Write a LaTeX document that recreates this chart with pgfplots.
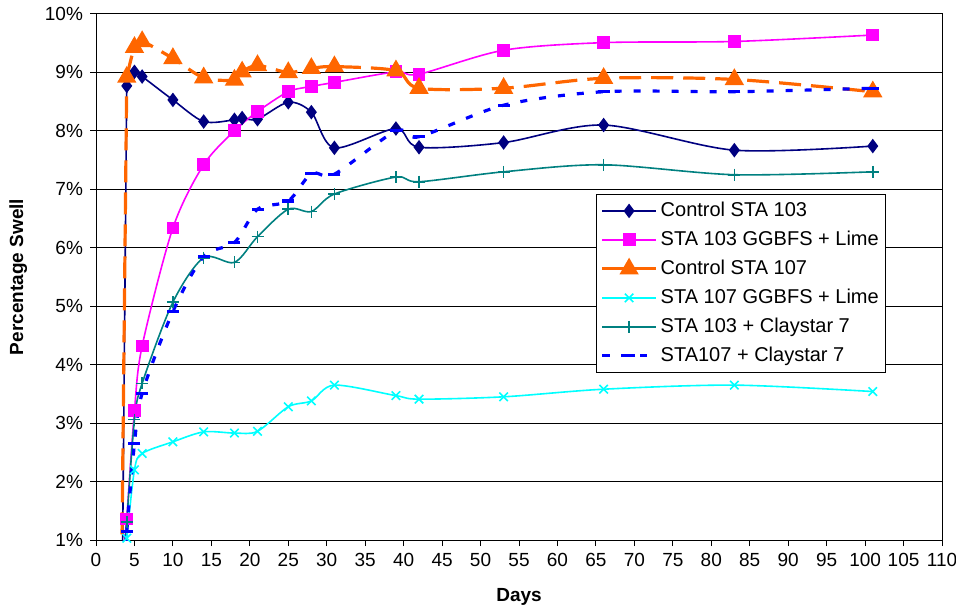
\documentclass[border=0pt]{standalone}
\usepackage{pgfplots}
\pgfplotsset{compat=1.18}
\usepackage{fontspec}
\setmainfont{Liberation Sans}

\definecolor{cnavy}{RGB}{0,0,128}
\definecolor{cpink}{RGB}{255,0,255}
\definecolor{corange}{RGB}{255,102,0}
\definecolor{ccyan}{RGB}{0,255,255}
\definecolor{cteal}{RGB}{0,128,128}
\definecolor{cblue}{RGB}{0,0,255}

\begin{document}
\begin{tikzpicture}
\useasboundingbox (-48pt,-35pt) rectangle (430pt,270pt);
\begin{axis}[
    scale only axis,
    width=423pt, height=263pt,
    xmin=0, xmax=110, ymin=1, ymax=10,
    xtick distance=5,
    ytick={1,...,10},
    yticklabel={\pgfmathprintnumber{\tick}\%},
    /pgf/number format/assume math mode=true,
    ymajorgrids,
    grid style={black, line width=0.5pt},
    axis line style={black, line width=0.5pt},
    tick align=outside, xtick pos=bottom, ytick pos=left,
    major tick length=3pt,
    tick style={black, line width=0.5pt},
    tick label style={font=\fontsize{9.5}{11}\selectfont},
    xlabel={Days}, ylabel={Percentage Swell},
    label style={font=\fontsize{9.5}{11}\selectfont\bfseries},
    xlabel style={at={(axis description cs:0.5,-0.108)}, anchor=center},
    ylabel style={at={(axis description cs:-0.092,0.5)}, anchor=center},
    legend style={
      at={(0.591,0.658)}, anchor=north west,
      draw=black, line width=0.5pt,
      font=\fontsize{10}{12}\selectfont,
      inner xsep=2pt, inner ysep=1pt,
      nodes={text height=8pt, text depth=2.5pt, inner ysep=2pt, inner xsep=1.5pt},
      cells={anchor=west}
    },
    legend image code/.code={
      \draw[mark repeat=2, mark phase=2, #1]
        plot coordinates {(0pt,0pt) (13.5pt,0pt) (27pt,0pt)};
    },
    start/.style={forget plot, no marks},
  ]
  % starting segments from zero (below the visible range)
  \addplot[start, color=cnavy, line width=0.8pt] coordinates {(3.4,0) (4,8.77)};
  \addplot[start, color=cpink, line width=0.8pt] coordinates {(3,0) (4,1.36)};
  \addplot[start, color=corange, line width=1.6pt, dash pattern=on 11pt off 5pt] coordinates {(3.3,0) (4,8.92)};
  \addplot[start, color=ccyan, line width=0.8pt] coordinates {(3.5,0) (4,1.03)};
  \addplot[start, color=cteal, line width=0.8pt] coordinates {(3.2,0) (4,1.31)};
  \addplot[start, color=cblue, line width=1.6pt, dash pattern=on 3.5pt off 6pt] coordinates {(3.4,0) (4,1.15)};
  % Control STA 103
  \addplot[color=cnavy, line width=0.8pt, smooth, mark=diamond*, mark size=3pt]
    coordinates {(4,8.77) (5,9.01) (6,8.93) (10,8.53) (14,8.16) (18,8.19) (19,8.22)
      (21,8.20) (25,8.49) (28,8.32) (31,7.71) (39,8.04) (42,7.72) (53,7.80) (66,8.10)
      (83,7.67) (101,7.74)};
  % STA 103 GGBFS + Lime
  \addplot[color=cpink, line width=0.8pt, smooth, mark=square*, mark size=2.8pt]
    coordinates {(4,1.36) (5,3.21) (6,4.32) (10,6.34) (14,7.42) (18,8.00) (21,8.33)
      (25,8.67) (28,8.76) (31,8.83) (39,9.01) (42,8.97) (53,9.38) (66,9.51) (83,9.53)
      (101,9.64)};
  % Control STA 107
  \addplot[color=corange, line width=1.6pt, dash pattern=on 11pt off 5pt, smooth,
      mark=triangle*, mark size=4pt, mark options={solid}]
    coordinates {(4,8.92) (5,9.43) (6,9.53) (10,9.24) (14,8.91) (18,8.87) (19,9.01)
      (21,9.12) (25,9.00) (28,9.07) (31,9.10) (39,9.03) (42,8.73) (53,8.73) (66,8.90)
      (83,8.88) (101,8.67)};
  % STA 107 GGBFS + Lime
  \addplot[color=ccyan, line width=0.8pt, smooth, mark=x, mark size=3pt]
    coordinates {(4,1.03) (5,2.20) (6,2.48) (10,2.68) (14,2.85) (18,2.83) (21,2.86)
      (25,3.28) (28,3.38) (31,3.65) (39,3.47) (42,3.41) (53,3.45) (66,3.58) (83,3.65)
      (101,3.54)};
  % STA 103 + Claystar 7
  \addplot[color=cteal, line width=0.8pt, smooth, mark=+, mark size=3pt]
    coordinates {(4,1.31) (5,3.06) (6,3.68) (10,5.07) (14,5.83) (18,5.75) (21,6.19)
      (25,6.66) (28,6.62) (31,6.92) (39,7.21) (42,7.13) (53,7.30) (66,7.42) (83,7.25)
      (101,7.30)};
  % STA107 + Claystar 7
  \addplot[color=cblue, line width=1.6pt, dash pattern=on 3.5pt off 6pt, smooth,
      mark=-, mark size=3pt, mark options={solid}]
    coordinates {(4,1.15) (5,2.65) (6,3.51) (10,4.91) (14,5.85) (18,6.09) (21,6.66)
      (25,6.80) (28,7.27) (31,7.26) (39,8.00) (42,7.90) (53,8.44) (66,8.67) (83,8.67)
      (101,8.73)};
  \legend{Control STA 103, STA 103 GGBFS + Lime, Control STA 107,
    STA 107 GGBFS + Lime, STA 103 + Claystar 7, STA107 + Claystar 7}
\end{axis}
\end{tikzpicture}
\end{document}
